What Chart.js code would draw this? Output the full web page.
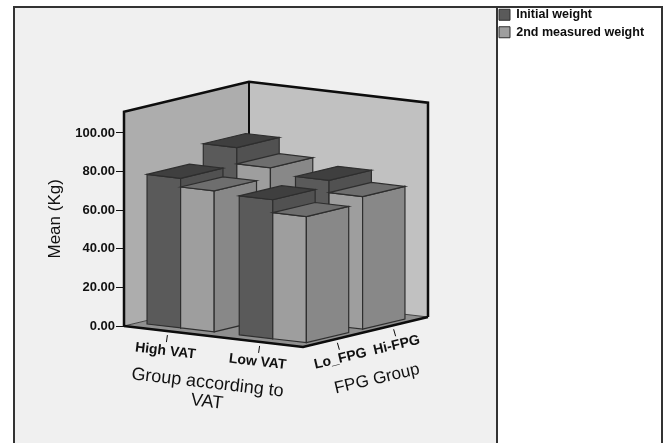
<!DOCTYPE html>
<html>
<head>
<meta charset="utf-8">
<style>
  html, body { margin: 0; padding: 0; background: #fff; }
  #wrap { position: relative; width: 664px; height: 443px; }
</style>
<script src="https://cdn.jsdelivr.net/npm/chart.js@4"></script>
</head>
<body>
<div id="wrap"><canvas id="chart" width="664" height="443"></canvas></div>
<script>
// Values
const vatGroups = ["High VAT", "Low VAT"];
const fpgGroups = ["Lo_FPG", "Hi-FPG"];
const initialLoFpg = [77.5, 72];
const initialHiFpg = [86.4, 75];
const secondLoFpg = [73, 65.3];
const secondHiFpg = [78, 68.7];
const yTicks = [0, 20, 40, 60, 80, 100];

// Oblique projection of the floor: pixels per full axis length
const VAT_DX = 179, VAT_DY = 21;
const FPG_DX = 125, FPG_DY = -30;
const WALL_TOP = 111;
const CLUSTER_WIDTH = 0.75; // share of a VAT band
const BAR_DEPTH = 0.753; // share of a FPG band
const VAT_SPREAD = 1.03; // clusters sit a bit further apart than the axis bands
const FPG_SPREAD = 0.9; // rows sit a bit closer than the axis bands

const COLORS = {
  panel: "#f0f0f0",
  frame: "#333333",
  wallLeft: "#adadad",
  wallBack: "#c1c1c1",
  floor: "#8f8f8f",
  edge: "#2e2e2e",
  dark: { front: "#5a5a5a", side: "#515151", top: "#3f3f3f" },
  light: { front: "#9e9e9e", side: "#888888", top: "#6e6e6e" },
};

// u runs along the VAT axis, v along the FPG axis, both 0..1
function project(chart, u, v, value) {
  const y = chart.scales.y;
  return {
    x: y.right + u * VAT_DX + v * FPG_DX,
    y: y.getPixelForValue(value) + u * VAT_DY + v * FPG_DY,
  };
}

function bandCentre(scale, index, spread) {
  return 0.5 + ((scale.getPixelForValue(index) - scale.left) / scale.width - 0.5) * spread;
}

function face(ctx, pts, fill, stroke, width) {
  ctx.beginPath();
  pts.forEach((p, i) => (i ? ctx.lineTo(p.x, p.y) : ctx.moveTo(p.x, p.y)));
  ctx.closePath();
  if (fill) {
    ctx.fillStyle = fill;
    ctx.fill();
  }
  if (stroke) {
    ctx.strokeStyle = stroke;
    ctx.lineWidth = width || 1;
    ctx.stroke();
  }
}

function drawBox(chart, u0, u1, v0, v1, value, colors) {
  const ctx = chart.ctx;
  const p = (u, v, h) => project(chart, u, v, h);
  face(ctx, [p(u0, v0, 0), p(u1, v0, 0), p(u1, v0, value), p(u0, v0, value)], colors.front, COLORS.edge, 1.2);
  face(ctx, [p(u1, v0, 0), p(u1, v1, 0), p(u1, v1, value), p(u1, v0, value)], colors.side, COLORS.edge, 1.2);
  face(ctx, [p(u0, v0, value), p(u1, v0, value), p(u1, v1, value), p(u0, v1, value)], colors.top, COLORS.edge, 1.2);
}

function slantedText(ctx, text, x, y, angle, font) {
  ctx.save();
  ctx.translate(x, y);
  ctx.rotate(angle);
  ctx.font = font;
  ctx.fillStyle = "#111111";
  ctx.textAlign = "center";
  ctx.textBaseline = "middle";
  ctx.fillText(text, 0, 0);
  ctx.restore();
}

const box3d = {
  id: "box3d",
  afterLayout(chart) {
    // legend sits in the white panel at the top, not beside the plot
    const legend = chart.legend;
    const h = legend.height;
    const w = legend.width;
    legend.top = 3.5;
    legend.bottom = 3.5 + h;
    legend.left = 494;
    legend.right = 494 + w;
  },
  beforeDraw(chart) {
    const ctx = chart.ctx;
    ctx.fillStyle = COLORS.panel;
    ctx.fillRect(14, 7, 483, 436);
    ctx.strokeStyle = COLORS.frame;
    ctx.lineWidth = 2;
    ctx.beginPath();
    ctx.moveTo(14, 443);
    ctx.lineTo(14, 7);
    ctx.lineTo(662, 7);
    ctx.lineTo(662, 443);
    ctx.moveTo(497, 7);
    ctx.lineTo(497, 443);
    ctx.stroke();
  },
  beforeDatasetsDraw(chart) {
    const ctx = chart.ctx;
    const xs = chart.scales.x;
    const zs = chart.scales.z;
    const p = (u, v, h) => project(chart, u, v, h);

    // walls and floor
    face(ctx, [p(0, 0, 0), p(0, 1, 0), p(0, 1, WALL_TOP), p(0, 0, WALL_TOP)], COLORS.wallLeft);
    face(ctx, [p(0, 1, 0), p(1, 1, 0), p(1, 1, WALL_TOP), p(0, 1, WALL_TOP)], COLORS.wallBack);
    face(ctx, [p(0, 0, 0), p(1, 0, 0), p(1, 1, 0), p(0, 1, 0)], COLORS.floor, "#444444");

    // frame, heavy like the original
    ctx.lineJoin = "miter";
    const line = (pts, width) => {
      ctx.beginPath();
      pts.forEach((q, i) => (i ? ctx.lineTo(q.x, q.y) : ctx.moveTo(q.x, q.y)));
      ctx.strokeStyle = "#0d0d0d";
      ctx.lineWidth = width;
      ctx.stroke();
    };
    line([p(0, 0, 0), p(0, 0, WALL_TOP), p(0, 1, WALL_TOP), p(1, 1, WALL_TOP), p(1, 1, 0)], 2.5);
    line([p(0, 1, 0), p(0, 1, WALL_TOP)], 2);

    // axis ticks and labels that lie along the floor edges
    vatGroups.forEach((name, i) => {
      const c = p(bandCentre(xs, i, VAT_SPREAD), 0, 0);
      line([{ x: c.x, y: c.y + 4 }, { x: c.x - 1, y: c.y + 11 }], 1);
      slantedText(ctx, name, c.x - 2, c.y + 20, 0.115, "bold 14px 'Liberation Sans'");
    });
    fpgGroups.forEach((name, i) => {
      const c = p(1, bandCentre(zs, i, FPG_SPREAD), 0);
      line([{ x: c.x, y: c.y + 4 }, { x: c.x + 2, y: c.y + 11 }], 1);
      slantedText(ctx, name, c.x + 3, c.y + 20, -0.23, "bold 14px 'Liberation Sans'");
    });
    slantedText(ctx, "Group according to", 207.5, 383, 0.115, "18px 'Liberation Sans'");
    slantedText(ctx, "VAT", 207, 402, 0.115, "18px 'Liberation Sans'");
    slantedText(ctx, "FPG Group", 377, 379, -0.23, "17px 'Liberation Sans'");

    // bars back row first, then left to right
    const bandU = 1 / vatGroups.length;
    const barU = (bandU * CLUSTER_WIDTH) / 2;
    const depth = (BAR_DEPTH * FPG_SPREAD) / fpgGroups.length;
    const rows = [1, 0];
    rows.forEach((row) => {
      const vc = bandCentre(zs, row, FPG_SPREAD);
      vatGroups.forEach((_, col) => {
        const uc = bandCentre(xs, col, VAT_SPREAD);
        chart.data.datasets
          .filter((d) => d.fpgIndex === row)
          .forEach((d) => {
            const u0 = uc - barU + d.seriesIndex * barU;
            drawBox(chart, u0, u0 + barU, vc - depth / 2, vc + depth / 2, d.data[col], d.seriesIndex ? COLORS.light : COLORS.dark);
          });
      });
    });

    // heavy front floor edges go over the bar feet
    line([p(0, 0, 0), p(1, 0, 0), p(1, 1, 0)], 2.5);
    return false; // bars are done, skip the flat ones
  },
};

const chart = new Chart(document.getElementById("chart"), {
  type: "bar",
  data: {
    labels: vatGroups,
    datasets: [
      { label: "Initial weight", data: initialLoFpg, backgroundColor: COLORS.dark.front, borderColor: COLORS.edge, borderWidth: 1, fpgIndex: 0, seriesIndex: 0 },
      { label: "2nd measured weight", data: secondLoFpg, backgroundColor: COLORS.light.front, borderColor: COLORS.edge, borderWidth: 1, fpgIndex: 0, seriesIndex: 1 },
      { label: "Initial weight", data: initialHiFpg, backgroundColor: COLORS.dark.front, borderColor: COLORS.edge, borderWidth: 1, fpgIndex: 1, seriesIndex: 0 },
      { label: "2nd measured weight", data: secondHiFpg, backgroundColor: COLORS.light.front, borderColor: COLORS.edge, borderWidth: 1, fpgIndex: 1, seriesIndex: 1 },
    ],
  },
  options: {
    responsive: false,
    animation: false,
    layout: { padding: { top: 111.7, bottom: 117, left: 0, right: 0 } },
    plugins: {
      tooltip: { enabled: false },
      legend: {
        position: "right",
        align: "start",
        onClick: null,
        labels: {
          boxWidth: 11,
          boxHeight: 11,
          padding: 5,
          color: "#0d0d0d",
          font: { family: "'Liberation Sans'", size: 12.5, weight: "bold" },
          filter: (item, data) => data.datasets[item.datasetIndex].fpgIndex === 0,
        },
      },
    },
    scales: {
      x: { type: "category", display: false, offset: true },
      z: { type: "category", display: false, axis: "x", labels: fpgGroups, offset: true },
      y: {
        min: 0,
        max: WALL_TOP,
        afterBuildTicks: (s) => {
          s.ticks = yTicks.map((value) => ({ value }));
        },
        afterFit: (s) => {
          s.width = 124;
        },
        border: { display: false },
        grid: { drawOnChartArea: false, drawTicks: true, tickLength: 8, tickColor: "#111111", tickWidth: 1 },
        ticks: {
          padding: 1,
          color: "#111111",
          font: { family: "'Liberation Sans'", size: 13, weight: "bold" },
          callback: (v) => Number(v).toFixed(2),
        },
        title: {
          display: true,
          text: "Mean (Kg)",
          color: "#111111",
          padding: { top: 45, bottom: 0 },
          font: { family: "'Liberation Sans'", size: 17 },
        },
      },
    },
  },
  plugins: [box3d],
});
</script>
</body>
</html>
